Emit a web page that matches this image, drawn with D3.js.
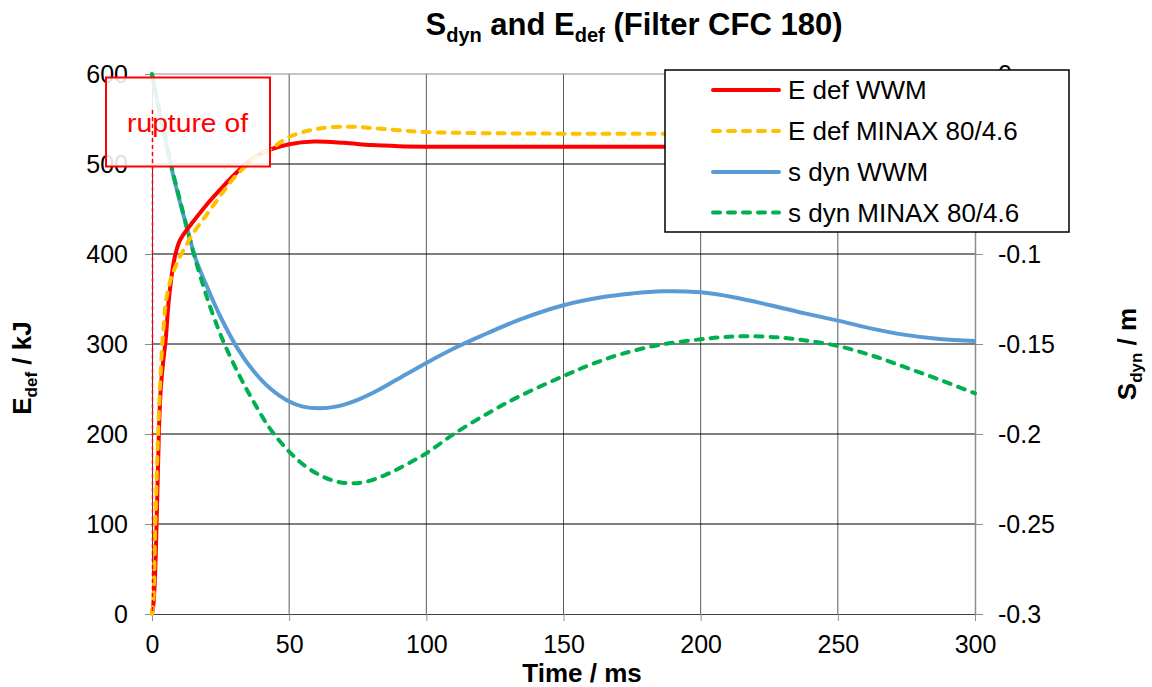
<!DOCTYPE html>
<html>
<head>
<meta charset="utf-8">
<script src="https://cdn.jsdelivr.net/npm/d3@7"></script>
<style>
  body { margin: 0; background: #fff; }
  text { font-family: "Liberation Sans", Arial, sans-serif; }
</style>
</head>
<body>
<script>
// time axis in ms
const timeTicks = [0, 50, 100, 150, 200, 250, 300];
const energyTicks = [0, 100, 200, 300, 400, 500, 600];
const sdynTicks = [-0.3, -0.25, -0.2, -0.15, -0.1, -0.05, 0];

// E def WWM (kJ)
const edefWwmT = [0, 0.5, 1, 1.5, 2, 2.5, 3, 3.5, 4, 5, 6, 7, 8, 9, 10, 12, 15, 20, 25, 30, 35, 40, 43, 50, 59, 70, 80, 90, 100, 150, 200, 250, 300];
const edefWwm  = [0, 10, 35, 80, 140, 200, 240, 262, 278, 305, 345, 372, 392, 405, 414, 424, 436, 455, 472, 488, 502, 512, 516, 522, 525, 523.5, 521, 519.8, 519.3, 519.2, 519.2, 519.2, 519.2];

// E def MINAX 80/4.6 (kJ)
const edefMinaxT = [0, 0.5, 1, 1.5, 2, 2.5, 3, 3.5, 4, 5, 6, 7, 8, 10, 12, 15, 20, 25, 30, 35, 40, 43, 50, 60, 71, 80, 90, 100, 120, 150, 200, 250, 300];
const edefMinax  = [0, 15, 75, 130, 180, 222, 258, 288, 310, 345, 362, 374, 382, 396, 407, 423, 444, 465, 485, 500, 512, 516, 530, 539, 541.5, 540, 537.5, 535.5, 534.3, 533.7, 533.6, 533.6, 533.6];

// s dyn WWM (m)
const sdynWwmT = [0, 2, 4, 6, 8, 10, 13, 16, 20, 25, 31, 37, 43, 50, 55, 61, 67, 75, 82, 89, 100, 110, 120, 134, 150, 165, 175, 186, 200, 212, 225, 238, 250, 262, 274, 287, 300];
const sdynWwm  = [0, -0.016, -0.031, -0.045, -0.058, -0.07, -0.087, -0.103, -0.118, -0.135, -0.152, -0.165, -0.1746, -0.182, -0.1848, -0.1857, -0.1848, -0.181, -0.176, -0.17, -0.1605, -0.1525, -0.1455, -0.1365, -0.1285, -0.1238, -0.1219, -0.1207, -0.1213, -0.124, -0.1283, -0.133, -0.137, -0.1413, -0.1448, -0.1472, -0.1483];

// s dyn MINAX 80/4.6 (m)
const sdynMinaxT = [0, 2, 4, 6, 8, 10, 13, 16, 20, 24, 27, 32, 37, 43, 50, 56, 62, 67, 72, 78, 85, 92, 100, 110, 123, 134, 150, 160, 171, 185, 200, 208, 217, 228, 239, 250, 262, 274, 287, 300];
const sdynMinax  = [0, -0.015, -0.029, -0.043, -0.057, -0.069, -0.087, -0.104, -0.124, -0.141, -0.152, -0.168, -0.182, -0.197, -0.2098, -0.218, -0.2235, -0.2263, -0.2274, -0.2265, -0.2228, -0.2175, -0.2107, -0.2, -0.188, -0.179, -0.1678, -0.1614, -0.1556, -0.1505, -0.1474, -0.1462, -0.1457, -0.1463, -0.1482, -0.1511, -0.1562, -0.1626, -0.1698, -0.1774];

const ruptureTime = 0;
const ruptureTop = 560;

const W = 1152, H = 687;
const plotL = 152, plotR = 975, plotT = 74, plotB = 614;

const svg = d3.select('body').append('svg')
  .attr('width', W)
  .attr('height', H);

svg.append('rect').attr('width', W).attr('height', H).attr('fill', '#fff');

const x = d3.scaleLinear().domain([0, 300]).range([plotL, plotR]);
const yE = d3.scaleLinear().domain([0, 600]).range([plotB, plotT]);
const yS = d3.scaleLinear().domain([-0.3, 0]).range([plotB, plotT]);

// grid
svg.append('g')
  .selectAll('line')
  .data(timeTicks.slice(1, -1))
  .join('line')
  .attr('x1', d => x(d)).attr('x2', d => x(d))
  .attr('y1', plotT).attr('y2', plotB)
  .attr('stroke', '#595959').attr('stroke-width', 1);

svg.append('g')
  .selectAll('line')
  .data(energyTicks.slice(1, -1))
  .join('line')
  .attr('x1', plotL).attr('x2', plotR)
  .attr('y1', d => yE(d)).attr('y2', d => yE(d))
  .attr('stroke', '#000').attr('stroke-width', 1);

// top border
svg.append('line')
  .attr('x1', plotL).attr('x2', plotR)
  .attr('y1', plotT).attr('y2', plotT)
  .attr('stroke', '#8c8c8c');

// axes
const axL = svg.append('g')
  .attr('transform', 'translate(' + plotL + ',0)')
  .call(d3.axisLeft(yE).tickValues(energyTicks).tickSizeInner(7).tickSizeOuter(0).tickPadding(17));

const axR = svg.append('g')
  .attr('transform', 'translate(' + plotR + ',0)')
  .call(d3.axisRight(yS).tickValues(sdynTicks).tickSizeInner(8).tickSizeOuter(0).tickPadding(15)
    .tickFormat(d => String(+d.toFixed(2))));

const axB = svg.append('g')
  .attr('transform', 'translate(0,' + plotB + ')')
  .call(d3.axisBottom(x).tickValues(timeTicks).tickSizeInner(7).tickSizeOuter(0).tickPadding(14));

[axL, axR, axB].forEach(a => {
  a.selectAll('text').attr('font-size', 25).attr('fill', '#000')
    .attr('font-family', '"Liberation Sans", Arial, sans-serif');
  a.selectAll('.tick line').attr('stroke', '#8c8c8c');
});
axL.select('.domain').attr('stroke', '#404040');
axB.select('.domain').attr('stroke', '#404040');
axR.select('.domain').attr('stroke', '#8c8c8c').attr('stroke-width', 1.5);

// series
const series = [
  { name: 'E def WWM', t: edefWwmT, v: edefWwm, y: yE, color: '#FF0000', dash: null },
  { name: 'E def MINAX 80/4.6', t: edefMinaxT, v: edefMinax, y: yE, color: '#FFC000', dash: '7,8' },
  { name: 's dyn WWM', t: sdynWwmT, v: sdynWwm, y: yS, color: '#5B9BD5', dash: null },
  { name: 's dyn MINAX 80/4.6', t: sdynMinaxT, v: sdynMinax, y: yS, color: '#00B050', dash: '7,8' }
];

// draw order: s dyn first, energy on top
[series[2], series[3], series[0], series[1]].forEach(s => {
  const line = d3.line()
    .x(d => x(d[0]))
    .y(d => s.y(d[1]))
    .curve(d3.curveCatmullRom.alpha(0.5));
  svg.append('path')
    .datum(d3.zip(s.t, s.v))
    .attr('d', line)
    .attr('fill', 'none')
    .attr('stroke', s.color)
    .attr('stroke-width', 4)
    .attr('stroke-linecap', s.dash ? 'round' : 'butt')
    .attr('stroke-linejoin', 'round')
    .attr('stroke-dasharray', s.dash);
});

// rupture annotation
svg.append('rect')
  .attr('x', 106).attr('y', 77.5)
  .attr('width', 164).attr('height', 89)
  .attr('fill', '#fff').attr('fill-opacity', 0.88)
  .attr('stroke', '#FF0000').attr('stroke-width', 2);

svg.append('line')
  .attr('x1', x(ruptureTime) + 0.5).attr('x2', x(ruptureTime) + 0.5)
  .attr('y1', yE(ruptureTop)).attr('y2', plotB)
  .attr('stroke', '#FF0000').attr('stroke-width', 1.5)
  .attr('stroke-dasharray', '4,3');

svg.append('text')
  .attr('x', 187.5).attr('y', 131.5)
  .attr('text-anchor', 'middle')
  .attr('font-family', 'Lato, "Open Sans", sans-serif')
  .attr('font-size', 25)
  .attr('textLength', 121).attr('lengthAdjust', 'spacingAndGlyphs')
  .attr('fill', '#FF0000')
  .text('rupture of');

// legend
const lg = svg.append('g');
lg.append('rect')
  .attr('x', 665).attr('y', 70)
  .attr('width', 404).attr('height', 162)
  .attr('fill', '#fff').attr('stroke', '#000').attr('stroke-width', 1.5);

const rowY = [90, 131, 172, 212.5];
series.forEach((s, i) => {
  lg.append('line')
    .attr('x1', 713).attr('x2', 779)
    .attr('y1', rowY[i]).attr('y2', rowY[i])
    .attr('stroke', s.color).attr('stroke-width', 4)
    .attr('stroke-linecap', 'round')
    .attr('stroke-dasharray', s.dash);
  lg.append('text')
    .attr('x', 788).attr('y', rowY[i]).attr('dy', '0.36em')
    .attr('font-size', 26)
    .text(s.name);
});

// titles
const title = svg.append('text')
  .attr('x', 634).attr('y', 35)
  .attr('text-anchor', 'middle')
  .attr('font-size', 31).attr('font-weight', 'bold');
title.append('tspan').text('S');
title.append('tspan').attr('font-size', 20).attr('dy', 7).text('dyn');
title.append('tspan').attr('dy', -7).text(' and E');
title.append('tspan').attr('font-size', 20).attr('dy', 7).text('def');
title.append('tspan').attr('dy', -7).text(' (Filter CFC 180)');

svg.append('text')
  .attr('x', 582).attr('y', 682)
  .attr('text-anchor', 'middle')
  .attr('font-size', 26).attr('font-weight', 'bold')
  .text('Time / ms');

const yl = svg.append('text')
  .attr('transform', 'translate(31,368) rotate(-90)')
  .attr('text-anchor', 'middle')
  .attr('font-size', 26).attr('font-weight', 'bold');
yl.append('tspan').text('E');
yl.append('tspan').attr('font-size', 17).attr('dy', 6).text('def');
yl.append('tspan').attr('dy', -6).text(' / kJ');

const yr = svg.append('text')
  .attr('transform', 'translate(1136,354) rotate(-90)')
  .attr('text-anchor', 'middle')
  .attr('font-size', 26).attr('font-weight', 'bold');
yr.append('tspan').text('S');
yr.append('tspan').attr('font-size', 17).attr('dy', 6).text('dyn');
yr.append('tspan').attr('dy', -6).text(' / m');
</script>
</body>
</html>
